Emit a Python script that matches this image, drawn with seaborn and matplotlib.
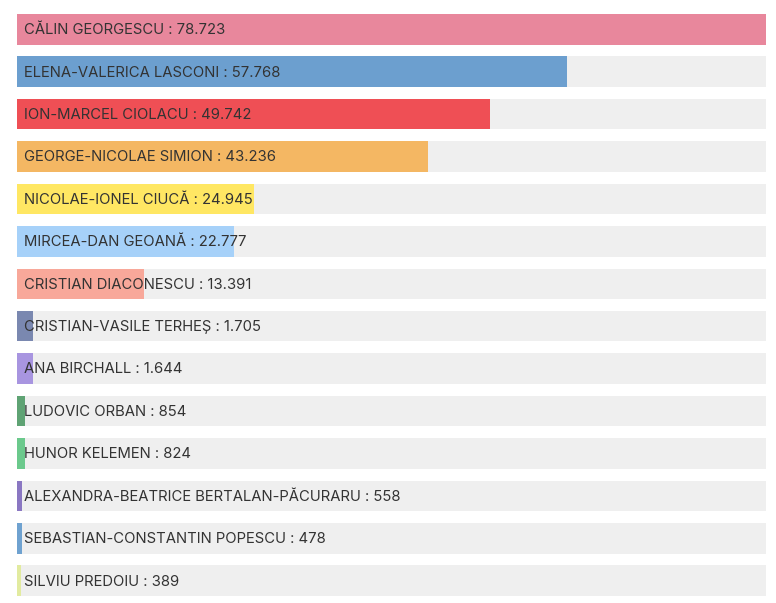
import pandas as pd
import matplotlib.pyplot as plt
import seaborn as sns

# Candidates and votes
names = [
    "CĂLIN GEORGESCU",
    "ELENA-VALERICA LASCONI",
    "ION-MARCEL CIOLACU",
    "GEORGE-NICOLAE SIMION",
    "NICOLAE-IONEL CIUCĂ",
    "MIRCEA-DAN GEOANĂ",
    "CRISTIAN DIACONESCU",
    "CRISTIAN-VASILE TERHEȘ",
    "ANA BIRCHALL",
    "LUDOVIC ORBAN",
    "HUNOR KELEMEN",
    "ALEXANDRA-BEATRICE BERTALAN-PĂCURARU",
    "SEBASTIAN-CONSTANTIN POPESCU",
    "SILVIU PREDOIU",
]
votes = [78723, 57768, 49742, 43236, 24945, 22777, 13391,
         1705, 1644, 854, 824, 558, 478, 389]
colors = ["#E8879C", "#6C9FCF", "#EF4F55", "#F4B763", "#FFE763", "#A6D1F9",
          "#F8A89A", "#7A88B0", "#A895E0", "#5FA374", "#6BC98C", "#8A77C2",
          "#6FA2D0", "#E2EBA0"]

data = pd.DataFrame({"name": names, "votes": votes})

plt.rcParams["font.family"] = ["Inter", "DejaVu Sans"]

fig = plt.figure(figsize=(7.76, 6.03), dpi=100)
ax = fig.add_axes([17 / 776, 7 / 603, 749 / 776, 582 / 603])

vmax = max(votes)
n = len(names)
bar_h = 0.72

# grey track behind each bar
ax.barh(range(n), [vmax] * n, height=bar_h, color="#EFEFEF", zorder=0)

sns.barplot(data=data, x="votes", y="name", hue="name", palette=colors,
            saturation=1, orient="h", width=bar_h, legend=False, ax=ax,
            zorder=1)

for i, (nm, v) in enumerate(zip(names, votes)):
    label = f"{nm} : {v:,}".replace(",", ".")
    ax.text(vmax * 7 / 749, i + 0.02, label, va="center", ha="left",
            fontsize=10.7, color="#333333", zorder=2)

ax.set_xlim(0, vmax)
ax.set_ylim(n - 1 + bar_h / 2, -bar_h / 2)
ax.set_axis_off()

fig.savefig("out.png", dpi=100)
